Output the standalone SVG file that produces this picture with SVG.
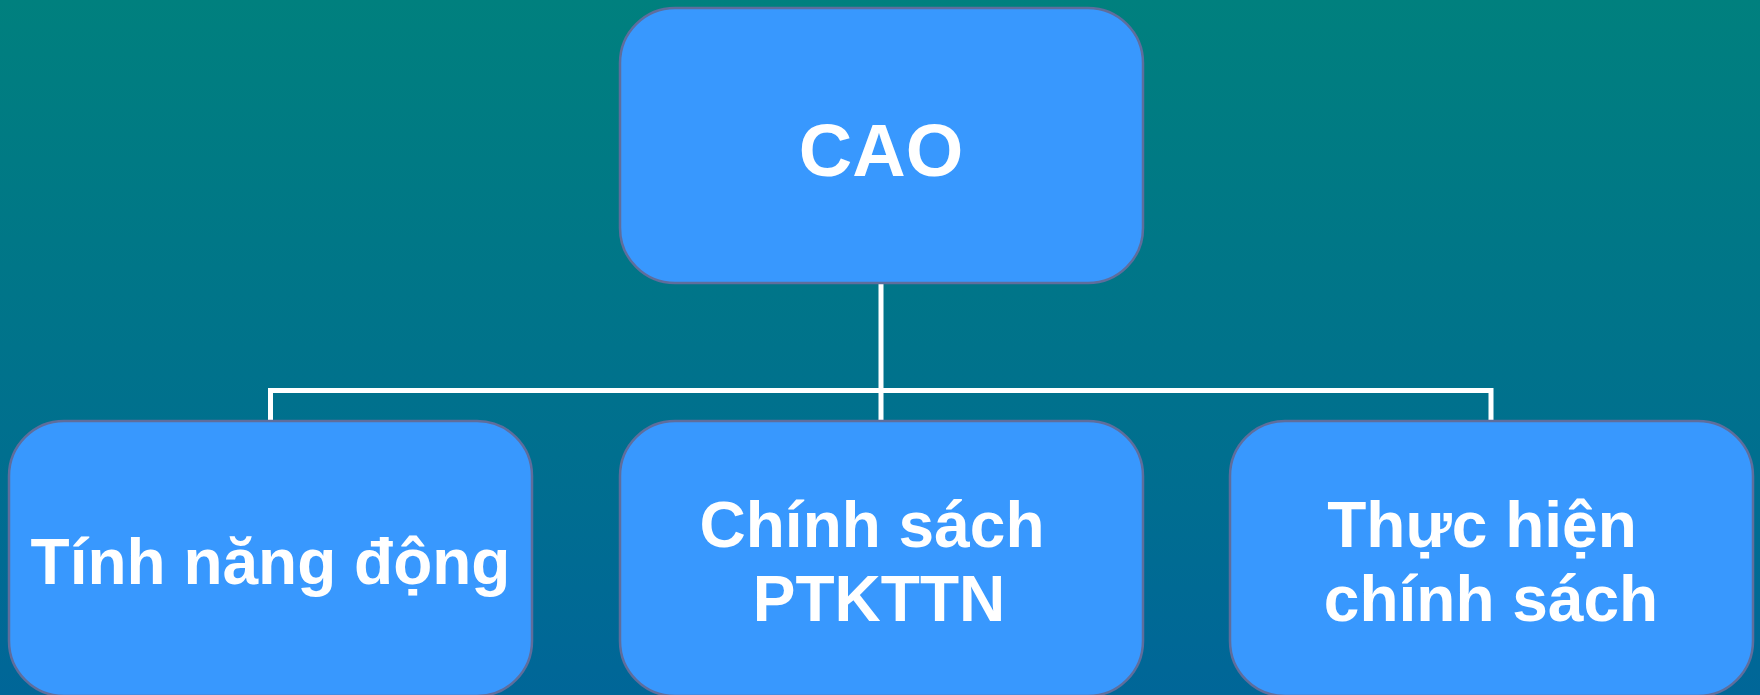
<svg xmlns="http://www.w3.org/2000/svg" width="1760" height="695" viewBox="0 0 1760 695">
<defs>
<linearGradient id="bg" x1="0" y1="0" x2="0" y2="1">
<stop offset="0" stop-color="#00807E"/>
<stop offset="1" stop-color="#006698"/>
</linearGradient>
</defs>
<style>
.box{fill:#3898FE;stroke:#5F6D9C;stroke-width:2.5}
.lbl{font-family:"Liberation Sans",Arial,sans-serif;font-weight:bold;font-size:64px;fill:#FFFFFF;text-anchor:middle}
.con{fill:none;stroke:#FFFFFF;stroke-width:5}
</style>
<rect x="0" y="0" width="1760" height="695" fill="url(#bg)"/>
<g id="connectors">
<path class="con" d="M881 283 V421"/>
<path class="con" d="M270.5 421 V390.5 H1491 V421"/>
</g>
<g id="node-cao">
<rect class="box" x="620" y="8" width="523" height="275" rx="55" ry="55"/>
<text class="lbl" x="881" y="176" style="font-size:74px">CAO</text>
</g>
<g id="node-tinh-nang-dong">
<rect class="box" x="9" y="421" width="523" height="275" rx="55" ry="55"/>
<text class="lbl" x="270.5" y="584">Tính năng động</text>
</g>
<g id="node-chinh-sach">
<rect class="box" x="620" y="421" width="523" height="275" rx="55" ry="55"/>
<text class="lbl" x="872" y="547">Chính sách</text>
<text class="lbl" x="879" y="621">PTKTTN</text>
</g>
<g id="node-thuc-hien">
<rect class="box" x="1230" y="421" width="523" height="275" rx="55" ry="55"/>
<text class="lbl" x="1482" y="547">Thực hiện</text>
<text class="lbl" x="1491" y="621">chính sách</text>
</g>
</svg>
